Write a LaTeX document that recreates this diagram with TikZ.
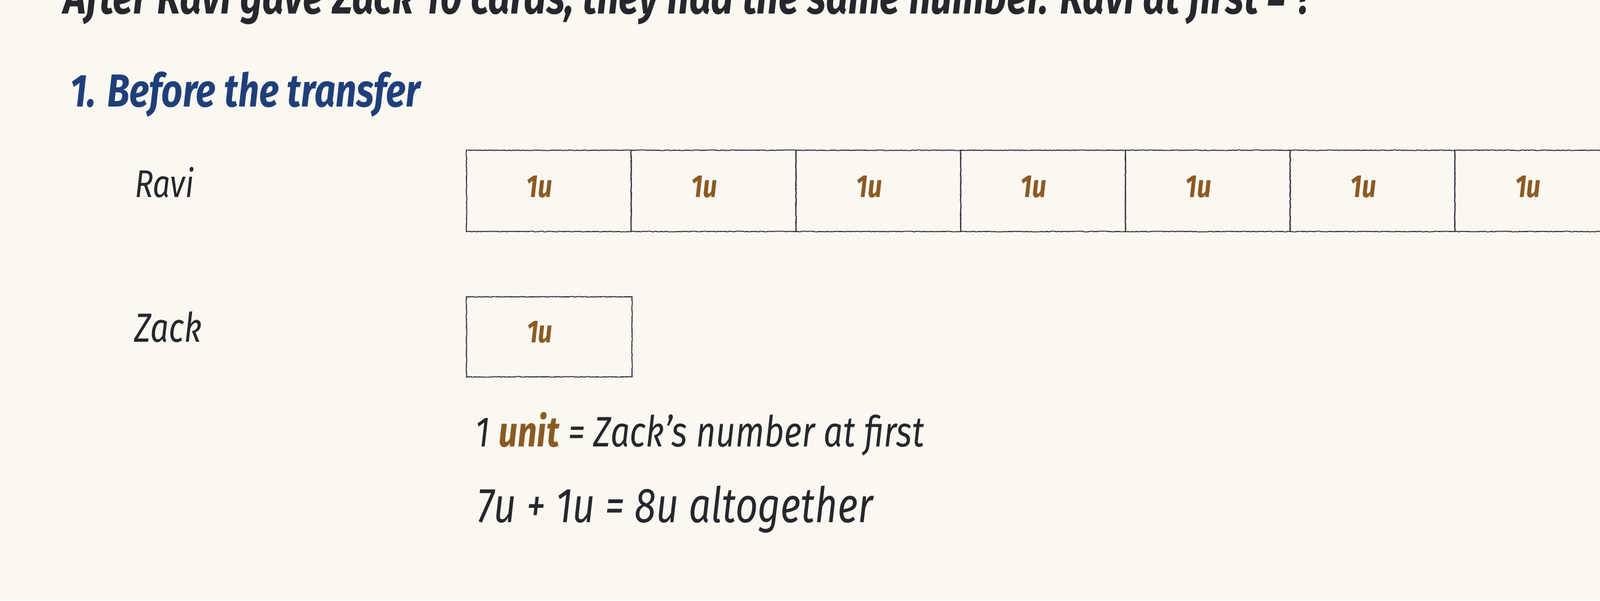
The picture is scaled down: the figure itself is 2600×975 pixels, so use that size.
\documentclass[tikz,border=0pt]{standalone}
\usepackage{fontspec}
\setmainfont{Fira Sans}[FakeStretch=0.8]
\usetikzlibrary{decorations.pathmorphing}
\definecolor{bg}{HTML}{FAF8F1}
\definecolor{ink}{HTML}{26272C}
\definecolor{headblue}{HTML}{1F3F7A}
\definecolor{unitbrown}{HTML}{8B5A24}
\definecolor{pencil}{HTML}{3C3C42}
\begin{document}
\begin{tikzpicture}[x=1pt,y=-1pt,
  txt/.style={inner sep=0pt, anchor=base west, text=ink, font=\itshape},
  ubox/.style={draw=pencil, line width=1.7pt, minimum width=267.7pt, minimum height=132pt,
    inner sep=0pt, outer sep=0pt,
    decorate, decoration={random steps, segment length=3pt, amplitude=0.6pt}},
  zbox/.style={ubox, minimum width=269pt, minimum height=130pt},
  ulab/.style={inner sep=0pt, anchor=base, text=unitbrown, font=\itshape\bfseries}]
\fill[bg] (0,0) rectangle (2600,975);
\useasboundingbox (0,0) rectangle (2600,975);

% title (cut at top edge, as in the reference)
\node[txt] (title) at (103,22) {\resizebox{2031pt}{!}{\bfseries After Ravi gave Zack 10 cards, they had the same number. Ravi at first = ?}};

% heading
\node[txt, text=headblue] (head) at (114,173) {\resizebox{569pt}{!}{\bfseries 1. Before the transfer}};

% row labels
\node[txt] (ravi) at (219,320) {\resizebox{96pt}{!}{Ravi}};
\node[txt] (zack) at (218,555) {\resizebox{110pt}{!}{Zack}};

% Ravi's bar: 7 units
\foreach \i in {1,...,7}{
  \node[ubox] (r\i) at ({758+267.7*(\i-0.5)},310) {};
  \node[ulab] (lr\i) at ({758+267.7*(\i-0.5)-15},320) {\resizebox{42pt}{!}{1u}};
}

% Zack's bar: 1 unit
\node[zbox] (z1) at (892.5,547) {};
\node[ulab] (lz1) at (877,556) {\resizebox{42pt}{!}{1u}};

% explanation lines
\node[txt] (line1) at (772,725) {\resizebox{729pt}{!}{1 {\color{unitbrown}\bfseries unit} = Zack’s number at first}};
\node[txt] (line2) at (775,848) {\resizebox{643pt}{!}{7u + 1u = 8u altogether}};
\end{tikzpicture}
\end{document}
